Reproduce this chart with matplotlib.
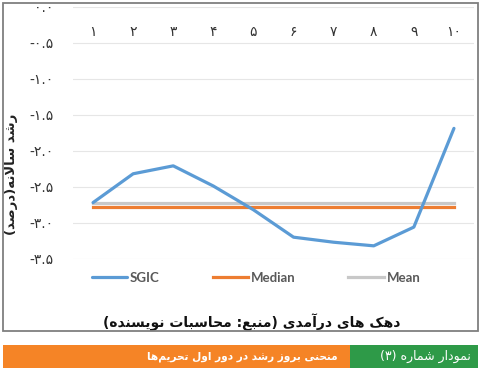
import matplotlib
matplotlib.use("Agg")
import matplotlib.pyplot as plt
from matplotlib.patches import Rectangle
import numpy as np

# ---------------- data ----------------
deciles = ["۱", "۲", "۳", "۴", "۵", "۶", "۷", "۸", "۹", "۱۰"]
sgic = [-2.72, -2.32, -2.21, -2.49, -2.82, -3.20, -3.27, -3.32, -3.06, -1.69]
median = [-2.78, -2.78, -2.78, -2.78, -2.78, -2.78, -2.78, -2.78, -2.78, -2.78]
mean = [-2.72, -2.72, -2.72, -2.72, -2.72, -2.72, -2.72, -2.72, -2.72, -2.72]
y_ticks = [0.0, -0.5, -1.0, -1.5, -2.0, -2.5, -3.0, -3.5]
y_ticklabels = ["۰.۰", "-۰.۵", "-۱.۰", "-۱.۵", "-۲.۰", "-۲.۵", "-۳.۰", "-۳.۵"]
series_names = ["SGIC", "Median", "Mean"]
y_title = "رشد سالانه(درصد)"
x_title = "دهک های درآمدی (منبع: محاسبات نویسنده)"
banner_left = "منحنی بروز رشد در دور اول تحریم‌ها"
banner_right = "نمودار شماره (۳)"

# ---------------- minimal Persian shaping (visual order) ----------------
FORMS = {
    'ا': ('\uFE8D', '\uFE8E', None, None),
    'آ': ('\uFE81', '\uFE82', None, None),
    'ب': ('\uFE8F', '\uFE90', '\uFE91', '\uFE92'),
    'ت': ('\uFE95', '\uFE96', '\uFE97', '\uFE98'),
    'ح': ('\uFEA1', '\uFEA2', '\uFEA3', '\uFEA4'),
    'د': ('\uFEA9', '\uFEAA', None, None),
    'ر': ('\uFEAD', '\uFEAE', None, None),
    'ز': ('\uFEAF', '\uFEB0', None, None),
    'س': ('\uFEB1', '\uFEB2', '\uFEB3', '\uFEB4'),
    'ش': ('\uFEB5', '\uFEB6', '\uFEB7', '\uFEB8'),
    'ص': ('\uFEB9', '\uFEBA', '\uFEBB', '\uFEBC'),
    'ع': ('\uFEC9', '\uFECA', '\uFECB', '\uFECC'),
    'ل': ('\uFEDD', '\uFEDE', '\uFEDF', '\uFEE0'),
    'م': ('\uFEE1', '\uFEE2', '\uFEE3', '\uFEE4'),
    'ن': ('\uFEE5', '\uFEE6', '\uFEE7', '\uFEE8'),
    'ه': ('\uFEE9', '\uFEEA', '\uFEEB', '\uFEEC'),
    'و': ('\uFEED', '\uFEEE', None, None),
    'ی': ('\uFBFC', '\uFBFD', '\uFBFE', '\uFBFF'),
    'ک': ('\uFB8E', '\uFB8F', '\uFB90', '\uFB91'),
    'LA': ('\uFEFB', '\uFEFC', None, None),
    'LAM': ('\uFEF5', '\uFEF6', None, None),
}


def shape(text):
    toks = []
    i = 0
    while i < len(text):
        c = text[i]
        if c == 'ل' and i + 1 < len(text) and text[i + 1] in ('ا', 'آ'):
            toks.append('LA' if text[i + 1] == 'ا' else 'LAM')
            i += 2
            continue
        toks.append(c)
        i += 1
    out = []
    for k, t in enumerate(toks):
        if t == '\u200c':
            continue
        if t not in FORMS:
            out.append(t)
            continue
        f = FORMS[t]
        prev = toks[k - 1] if k > 0 else None
        nxt = toks[k + 1] if k + 1 < len(toks) else None
        jp = prev in FORMS and FORMS[prev][2] is not None
        jn = f[2] is not None and nxt in FORMS
        if jp and jn:
            out.append(f[3])
        elif jp:
            out.append(f[1])
        elif jn:
            out.append(f[2])
        else:
            out.append(f[0])
    vis = ''.join(reversed(out))
    vis = vis.replace('(', '\0').replace(')', '(').replace('\0', ')')
    return vis


# ---------------- figure ----------------
W, H = 480, 371
fig = plt.figure(figsize=(W / 100, H / 100), dpi=100)
fig.patch.set_facecolor('white')


def fx(px):
    return px / W


def fy(py):
    return 1 - py / H


ax_left, ax_right, ax_top, ax_bot = 73, 474, 6.6, 258.8
ax = fig.add_axes([fx(ax_left), fy(ax_bot), fx(ax_right - ax_left), (ax_bot - ax_top) / H])
ax.set_facecolor('none')

x = np.arange(1, len(deciles) + 1)
l_sgic, = ax.plot(x, sgic, color='#5B9BD5', lw=2.3, solid_capstyle='round', zorder=4)
l_med, = ax.plot(x, median, color='#ED7D31', lw=2.3, zorder=3)
l_mean, = ax.plot(x, mean, color='#C8C8C8', lw=2.3, zorder=2)

ax.set_xlim(0.5, len(deciles) + 0.5)
ax.set_ylim(-3.5, 0.0)
ax.set_yticks(y_ticks)
ax.set_yticklabels(y_ticklabels, fontsize=10, color='#333333', family='DejaVu Sans')
ax.set_xticks(x)
ax.set_xticklabels(deciles, fontsize=10, color='#333333', family='DejaVu Sans')
ax.xaxis.tick_top()
ax.tick_params(axis='x', length=0, pad=-23)
ax.tick_params(axis='y', length=0, pad=14)
for s in ax.spines.values():
    s.set_visible(False)
ax.grid(axis='y', color='#E6E6E6', lw=0.8)
ax.set_axisbelow(True)

# legend
fig.legend([l_sgic, l_med, l_mean], series_names, loc='center',
           bbox_to_anchor=(fx(256), fy(277.7)), ncol=3, frameon=False,
           handlelength=2.7, handletextpad=0.2, columnspacing=4.0,
           prop={'family': 'Lato', 'weight': 'bold', 'size': 9.5},
           labelcolor='#595959')

# axis titles
fig.text(fx(12), fy(174), shape(y_title), rotation=90, ha='center', va='center',
         fontsize=9.5, fontweight='bold', color='#222222', family='DejaVu Sans')
fig.text(fx(252), fy(322), shape(x_title), ha='center', va='center',
         fontsize=10, fontweight='bold', color='#111111', family='DejaVu Sans')

# outer frame
fig.patches.append(Rectangle((3, 40), 475, 328, transform=None, fill=False,
                             edgecolor='#7F7F7F', lw=1.3, zorder=5))
# white strip above frame (clips top label)
fig.patches.append(Rectangle((0, 368.6), W, 3, transform=None, facecolor='white',
                             edgecolor='none', zorder=4))

# banner
fig.patches.append(Rectangle((3, 3), 347, 23, transform=None, facecolor='#F58426',
                             edgecolor='none', zorder=5))
fig.patches.append(Rectangle((350, 3), 128, 23, transform=None, facecolor='#2E9A48',
                             edgecolor='none', zorder=5))
fig.text(fx(338), fy(356.5), shape(banner_left), ha='right', va='center',
         fontsize=7.6, fontweight='bold', color='white', family='DejaVu Sans', zorder=6)
fig.text(fx(425), fy(356.5), shape(banner_right), ha='center', va='center',
         fontsize=9, color='white', family='DejaVu Sans', zorder=6)

fig.savefig('out.png', dpi=100, facecolor='white')
